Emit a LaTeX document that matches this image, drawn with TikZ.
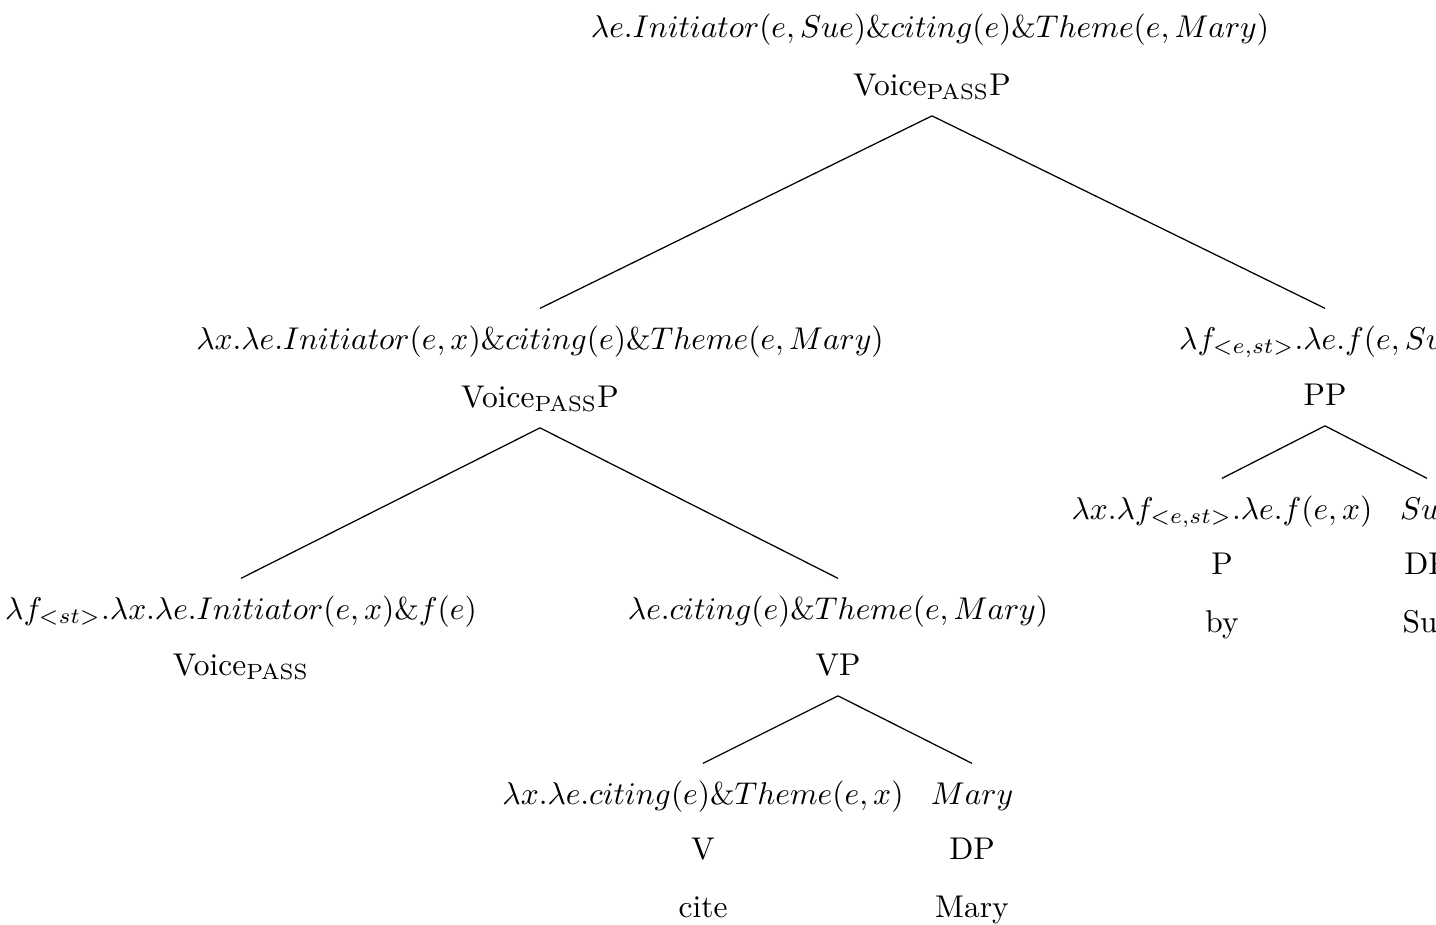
\documentclass[tikz,border=0pt]{standalone}
\begin{document}
\begin{tikzpicture}[x=0.3178pt,y=-0.3178pt,
  lab/.style={inner xsep=0pt, text height=7pt, text depth=2.5pt},
  form/.style={lab, inner ysep=5.75pt},
  cat/.style={lab, inner ysep=3.9pt},
  edge/.style={line width=0.4pt}]
\useasboundingbox (0,0) rectangle (1436,924);
\clip (0,0) rectangle (1436,924);
% root
\node[form] (f0) at (930,30) {$\lambda e.Initiator(e,Sue)\&citing(e)\&Theme(e,Mary)$};
\node[cat] (c0) at (932,88) {Voice$_{\mathrm{PASS}}$P};
% left VoiceP
\node[form] (f1) at (540,342) {$\lambda x.\lambda e.Initiator(e,x)\&citing(e)\&Theme(e,Mary)$};
\node[cat] (c1) at (540,400) {Voice$_{\mathrm{PASS}}$P};
% PP
\node[form] (f2) at (1325,342) {$\lambda f_{<e,st>}.\lambda e.f(e,Sue)$};
\node[cat] (c2) at (1325,398) {PP};
% Voice head
\node[form] (f11) at (241,612) {$\lambda f_{<st>}.\lambda x.\lambda e.Initiator(e,x)\&f(e)$};
\node[cat] (c11) at (241,668) {Voice$_{\mathrm{PASS}}$};
% VP
\node[form] (f12) at (838,612) {$\lambda e.citing(e)\&Theme(e,Mary)$};
\node[cat] (c12) at (838,668) {VP};
% V
\node[form] (f121) at (703,797) {$\lambda x.\lambda e.citing(e)\&Theme(e,x)$};
\node[cat] (c121) at (703,852) {V};
\node[cat] (w121) at (703,910) {cite};
% DP Mary
\node[form] (f122) at (972,797) {$Mary$};
\node[cat] (c122) at (972,852) {DP};
\node[cat] (w122) at (972,910) {Mary};
% P
\node[form] (f21) at (1222,512) {$\lambda x.\lambda f_{<e,st>}.\lambda e.f(e,x)$};
\node[cat] (c21) at (1222,567) {P};
\node[cat] (w21) at (1222,625) {by};
% DP Sue
\node[form] (f22) at (1427,512) {$Sue$};
\node[cat] (c22) at (1427,567) {DP};
\node[cat] (w22) at (1427,625) {Sue};
% edges
\draw[edge] (c0.south) -- (f1.north);
\draw[edge] (c0.south) -- (f2.north);
\draw[edge] (c1.south) -- (f11.north);
\draw[edge] (c1.south) -- (f12.north);
\draw[edge] (c12.south) -- (f121.north);
\draw[edge] (c12.south) -- (f122.north);
\draw[edge] (c2.south) -- (f21.north);
\draw[edge] (c2.south) -- (f22.north);
\end{tikzpicture}
\end{document}
